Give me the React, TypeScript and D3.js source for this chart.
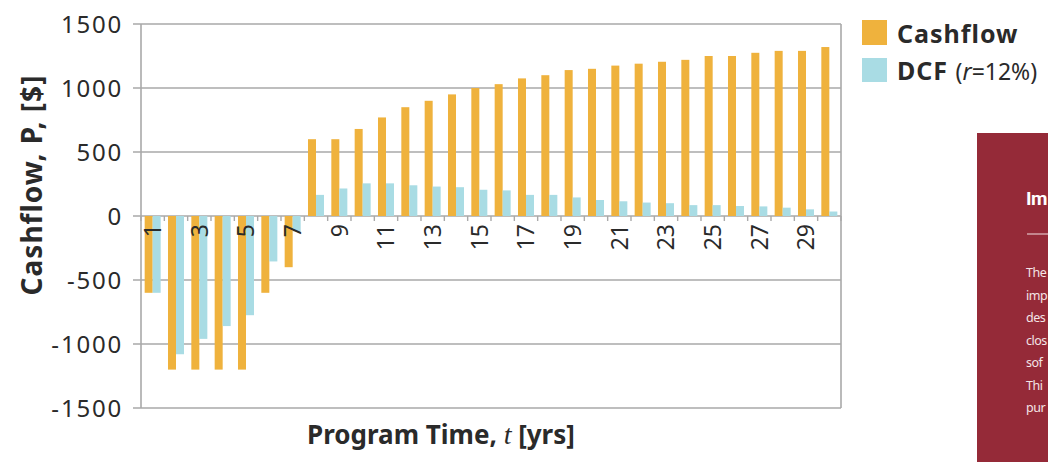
import React from 'react';
import * as d3 from 'd3';

const years = [1, 2, 3, 4, 5, 6, 7, 8, 9, 10, 11, 12, 13, 14, 15, 16, 17, 18, 19, 20, 21, 22, 23, 24, 25, 26, 27, 28, 29, 30];
const cashflow = [-600, -1200, -1200, -1200, -1200, -600, -400, 600, 600, 680, 770, 850, 900, 950, 1000, 1030, 1075, 1100, 1140, 1150, 1175, 1190, 1205, 1220, 1250, 1250, 1275, 1290, 1290, 1320];
const dcf = [-600, -1080, -960, -860, -775, -355, -120, 165, 215, 255, 255, 240, 230, 225, 205, 200, 165, 165, 145, 125, 115, 105, 100, 85, 85, 78, 75, 65, 52, 35];
const yTicks = [-1500, -1000, -500, 0, 500, 1000, 1500];
const xTickLabels = [1, 3, 5, 7, 9, 11, 13, 15, 17, 19, 21, 23, 25, 27, 29];
const seriesKeys = ['cf', 'dcf'];
const sideHeading = 'Im';
const sideLines = ['The', 'imp', 'des', 'clos', 'sof', 'Thi', 'pur'];

const ORANGE = '#EFB23D';
const BLUE = '#A9DCE4';
const GRID = '#A9A9A9';
const TEXT = '#2a2a2a';
const FONT = "'Noto Sans', sans-serif";

export default function App() {
  const W = 1048, H = 462;
  const left = 141, right = 841, top = 24, bottom = 408;
  const x = d3.scaleBand<number>().domain(years).range([left, right]).paddingInner(0.314).paddingOuter(0.157);
  const x1 = d3.scaleBand<string>().domain(seriesKeys).range([0, x.bandwidth()]);
  const y = d3.scaleLinear().domain([-1500, 1500]).range([bottom, top]);
  const y0 = y(0);
  const step = x.step();
  const boundaries = d3.range(0, years.length + 1).map(k => left + k * step);

  const bars = (vals: number[], key: string, color: string) =>
    vals.map((v, i) => {
      const yr = years[i];
      const yv = y(v);
      return (
        <rect key={key + yr} x={(x(yr) as number) + (x1(key) as number)} y={Math.min(yv, y0)}
          width={x1.bandwidth()} height={Math.abs(yv - y0)} fill={color} />
      );
    });

  return (
    <svg width={W} height={H} style={{ position: 'absolute', left: 0, top: 0, background: '#fff' }}>
      {/* grid */}
      {yTicks.map(t => (
        <line key={'g' + t} x1={left - 8} x2={right} y1={y(t)} y2={y(t)} stroke={GRID} strokeWidth={1.6} />
      ))}
      <line x1={left} x2={left} y1={top} y2={bottom} stroke={GRID} strokeWidth={1.6} />
      <line x1={right} x2={right} y1={top} y2={bottom} stroke={GRID} strokeWidth={1.6} />
      {boundaries.map((bx, k) => (
        <line key={'xt' + k} x1={bx} x2={bx} y1={y0} y2={y0 + 5} stroke={GRID} strokeWidth={1.4} />
      ))}
      {/* bars */}
      {bars(cashflow, 'cf', ORANGE)}
      {bars(dcf, 'dcf', BLUE)}
      {/* y labels */}
      {yTicks.map(t => (
        <text key={'yl' + t} x={123} y={y(t)} dy="0.36em" textAnchor="end" fontFamily={FONT} fontSize={24}
          letterSpacing={1.8} fill={TEXT}>{t}</text>
      ))}
      {/* x labels */}
      {xTickLabels.map(t => (
        <text key={'xl' + t} transform={`translate(${(x(t) as number) + x.bandwidth() / 2},${y0 + 8}) rotate(-90)`}
          dy="0.36em" textAnchor="end" fontFamily={FONT} fontSize={23} fill={TEXT}>{t}</text>
      ))}
      {/* axis titles */}
      <text transform={`translate(42,185) rotate(-90)`} textAnchor="middle" fontFamily={FONT} fontSize={28}
        fontWeight={700} letterSpacing={1} fill={TEXT}>Cashflow, P, [$]</text>
      <text x={441} y={444} textAnchor="middle" fontFamily={FONT} fontSize={26} fontWeight={700} fill={TEXT}>
        Program Time, <tspan fontFamily="'Liberation Serif', serif" fontStyle="italic" fontWeight={400} fontSize={28}>t</tspan> [yrs]
      </text>
      {/* legend */}
      <rect x={862} y={20} width={25} height={25} fill={ORANGE} />
      <text x={897} y={43} fontFamily={FONT} fontSize={25} fontWeight={700} letterSpacing={1} fill={TEXT}>Cashflow</text>
      <rect x={862} y={58} width={25} height={24} fill={BLUE} />
      <text x={897} y={80} fontFamily={FONT} fill={TEXT}>
        <tspan fontSize={25} fontWeight={700} letterSpacing={1}>DCF </tspan>
        <tspan fontSize={23}>(<tspan fontStyle="italic">r</tspan>=12%)</tspan>
      </text>
      {/* side panel */}
      <rect x={977} y={133} width={W - 977} height={H - 133} fill="#952A38" />
      <text x={1026} y={205} fontFamily="Roboto, sans-serif" fontSize={19} fontWeight={700} letterSpacing={-0.6}
        fill="#fff">{sideHeading}</text>
      <line x1={1027} x2={W} y1={234} y2={234} stroke="#f2dfe1" strokeWidth={1} />
      {sideLines.map((s, i) => (
        <text key={'sl' + i} x={1026} y={277 + i * 22.5} fontFamily={FONT} fontSize={12.5} letterSpacing={-0.5}
          fill="#f4e4e6">{s}</text>
      ))}
    </svg>
  );
}
